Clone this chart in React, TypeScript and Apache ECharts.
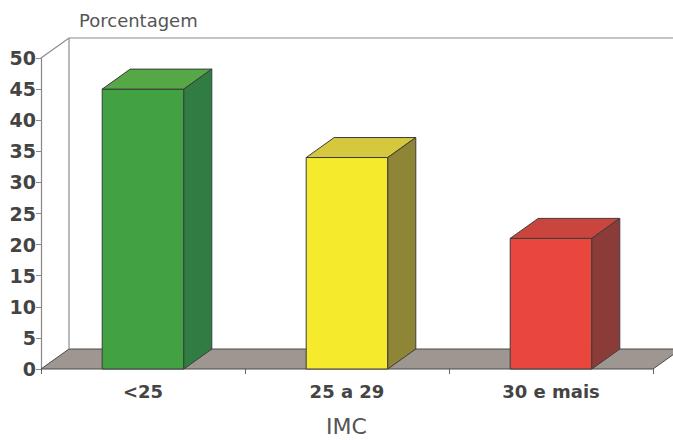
import React, { useEffect, useRef } from "react";
import * as echarts from "echarts";

// BMI groups and the share of people in each
const categories = ["<25", "25 a 29", "30 e mais"];
const percentages = [45, 34, 21];
const yMin = 0;
const yMax = 50;
const yStep = 5;

// Shading for the front, top and side faces of each box
const faceColors = [
  { front: "#42a242", top: "#55a845", side: "#307c43" },
  { front: "#f6ea2c", top: "#d5c83e", side: "#8e8537" },
  { front: "#e9473d", top: "#c9453e", side: "#8b3c38" },
];

// Pixel offset used for the receding (depth) edges
const DX = 28;
const DY = -20;
const FONT = "DejaVu Sans";

export default function App() {
  const ref = useRef<HTMLDivElement>(null);

  useEffect(() => {
    if (!ref.current) return;
    const chart = echarts.init(ref.current, null, { renderer: "svg" });

    const edge = { stroke: "#3c3c3c", lineWidth: 1 };

    chart.setOption({
      animation: false,
      backgroundColor: "#ffffff",
      grid: { left: 41, right: 20, top: 58, bottom: 71 },
      xAxis: {
        type: "category",
        data: categories,
        boundaryGap: true,
        axisLine: { show: false },
        axisTick: {
          show: true,
          alignWithLabel: false,
          length: 5,
          lineStyle: { color: "#666" },
        },
        axisLabel: {
          margin: 13,
          fontFamily: FONT,
          fontWeight: "bold",
          fontSize: 18,
          color: "#444",
        },
        splitLine: { show: false },
      },
      yAxis: {
        type: "value",
        min: yMin,
        max: yMax,
        interval: yStep,
        axisLine: { show: true, lineStyle: { color: "#888", width: 1.2 } },
        axisTick: { show: true, length: 5, lineStyle: { color: "#888" } },
        axisLabel: {
          margin: 5,
          fontFamily: FONT,
          fontWeight: "bold",
          fontSize: 19,
          color: "#444",
        },
        splitLine: { show: false },
      },
      graphic: [
        {
          type: "text",
          left: 79,
          top: 11,
          style: {
            text: "Porcentagem",
            fontFamily: FONT,
            fontSize: 18,
            fill: "#555",
          },
        },
        {
          type: "text",
          left: 326,
          top: 415,
          style: {
            text: "IMC",
            fontFamily: FONT,
            fontSize: 22,
            fill: "#555",
          },
        },
      ],
      series: [
        {
          // floor and back walls of the box
          type: "custom",
          z: 1,
          silent: true,
          data: [[0, 0]],
          encode: { x: 0, y: 1 },
          renderItem: (params: any) => {
            const cs = params.coordSys;
            const x0 = cs.x;
            const x1 = cs.x + cs.width;
            const yt = cs.y;
            const yb = cs.y + cs.height;
            return {
              type: "group",
              children: [
                {
                  type: "polygon",
                  shape: {
                    points: [
                      [x0, yb],
                      [x1, yb],
                      [x1 + DX, yb + DY],
                      [x0 + DX, yb + DY],
                    ],
                  },
                  style: { fill: "#9e9690", stroke: "#4a4a4a", lineWidth: 1 },
                },
                {
                  type: "polyline",
                  shape: {
                    points: [
                      [x0, yt],
                      [x0 + DX, yt + DY],
                      [x1 + DX + 20, yt + DY],
                    ],
                  },
                  style: { fill: "none", stroke: "#8a8a8a", lineWidth: 1.2 },
                },
                {
                  type: "line",
                  shape: { x1: x0 + DX, y1: yt + DY, x2: x0 + DX, y2: yb + DY },
                  style: { stroke: "#8a8a8a", lineWidth: 1.2 },
                },
              ],
            };
          },
        },
        {
          // one box per BMI group
          type: "custom",
          z: 2,
          data: percentages.map((v, i) => [i, v]),
          encode: { x: 0, y: 1 },
          renderItem: (params: any, api: any) => {
            const i = api.value(0);
            const v = api.value(1);
            const [cx, yTop] = api.coord([i, v]);
            const yBase = api.coord([i, 0])[1];
            const w = api.size([1, 0])[0] * 0.4;
            const l = cx - w / 2;
            const r = cx + w / 2;
            const c = faceColors[params.dataIndex % faceColors.length];
            return {
              type: "group",
              children: [
                {
                  type: "polygon",
                  shape: { points: [[l, yBase], [r, yBase], [r, yTop], [l, yTop]] },
                  style: { fill: c.front, ...edge },
                },
                {
                  type: "polygon",
                  shape: {
                    points: [
                      [l, yTop],
                      [r, yTop],
                      [r + DX, yTop + DY],
                      [l + DX, yTop + DY],
                    ],
                  },
                  style: { fill: c.top, ...edge },
                },
                {
                  type: "polygon",
                  shape: {
                    points: [
                      [r, yBase],
                      [r + DX, yBase + DY],
                      [r + DX, yTop + DY],
                      [r, yTop],
                    ],
                  },
                  style: { fill: c.side, ...edge },
                },
              ],
            };
          },
        },
      ],
    });

    return () => chart.dispose();
  }, []);

  return (
    <div
      ref={ref}
      style={{ position: "fixed", left: 0, top: 0, width: 673, height: 440 }}
    />
  );
}
